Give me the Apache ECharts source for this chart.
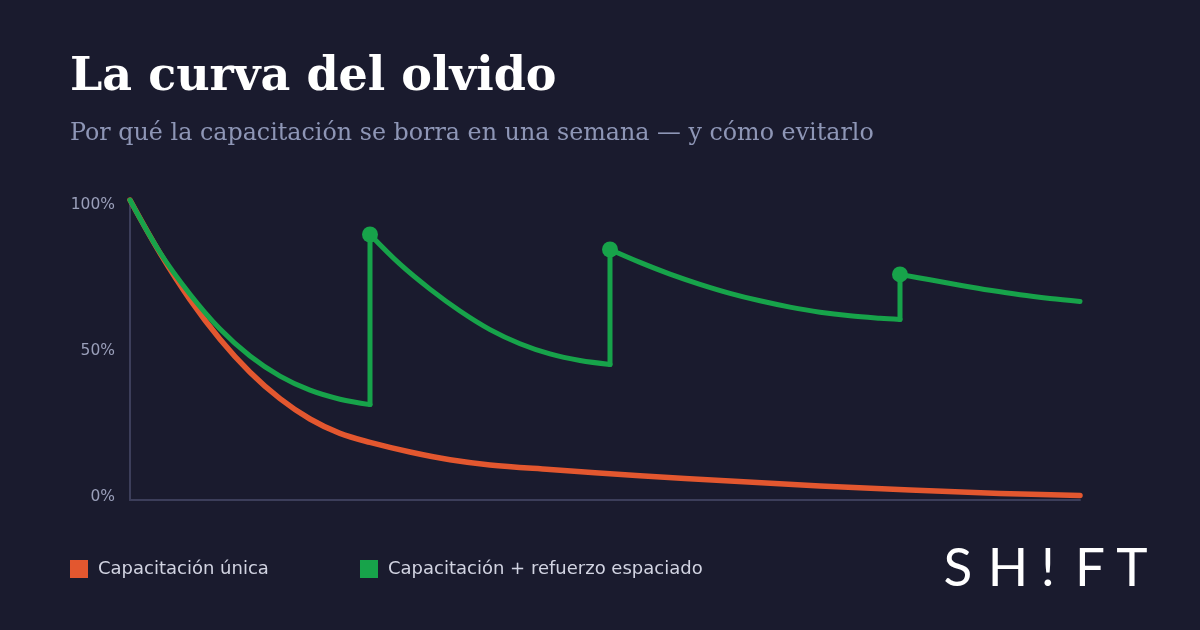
<!DOCTYPE html>
<html>
<head>
<meta charset="utf-8">
<script src="https://cdn.jsdelivr.net/npm/echarts@6/dist/echarts.min.js"></script>
<style>
  html, body { margin: 0; padding: 0; background: #1a1b2e; }
  #chart { width: 1200px; height: 630px; }
</style>
</head>
<body>
<div id="chart"></div>
<script>
// eje x: tiempo (unidades arbitrarias 0–95), eje y: retención %
const yTicks = [0, 50, 100]

const unicaName = 'Capacitación única'
const refuerzoName = 'Capacitación + refuerzo espaciado'

// curva sin refuerzo
const unica = [
  [0, 100], [3, 82.3], [6, 66.8], [9, 53.6], [12, 42.6], [15, 33.8],
  [18, 27], [21, 22.2], [24, 19.2], [28, 16], [32, 13.4], [36, 11.7],
  [42, 10.2], [51, 8.1], [60, 6.3], [69, 4.7], [78, 3.3], [87, 2.2], [95, 1.5]
]

// curva con refuerzos: un tramo por sesión
const tramo1 = [[0, 100], [3, 82.5], [6, 68.6], [9, 57], [12, 48], [15, 41.3], [18, 36.6], [21, 33.6], [24, 31.8]]
const tramo2 = [[24, 88.5], [27, 78.6], [30, 70.3], [33, 63], [36, 56.8], [39, 52.1], [42, 48.7], [45, 46.5], [48, 45.2]]
const tramo3 = [[48, 83.5], [51, 79.2], [54, 75.3], [57, 71.9], [60, 68.9], [63, 66.4], [66, 64.3], [69, 62.6], [72, 61.4], [75, 60.6], [77, 60.2]]
const tramo4 = [[77, 75.2], [80, 73.4], [83, 71.6], [86, 69.9], [89, 68.4], [92, 67.2], [95, 66.2]]

const rojo = '#e3572f'
const verde = '#17a34a'

const chart = echarts.init(document.getElementById('chart'), null, { renderer: 'canvas' })

const tramos = [tramo1, tramo2, tramo3, tramo4]

const series = [
  {
    name: unicaName,
    type: 'line',
    data: unica,
    smooth: 0.35,
    showSymbol: false,
    lineStyle: { color: rojo, width: 5.5, cap: 'round', join: 'round' },
    itemStyle: { color: rojo },
    z: 2
  }
]

tramos.forEach((t, i) => {
  series.push({
    name: refuerzoName,
    type: 'line',
    data: t,
    smooth: 0.35,
    showSymbol: false,
    lineStyle: { color: verde, width: 5, cap: 'round', join: 'round' },
    itemStyle: { color: verde },
    z: 3
  })
  // salto vertical del refuerzo + punto
  if (i > 0) {
    const prev = tramos[i - 1]
    series.push({
      name: refuerzoName,
      type: 'line',
      data: [prev[prev.length - 1], { value: t[0], symbol: 'circle', symbolSize: 16 }],
      showSymbol: true,
      symbol: 'none',
      lineStyle: { color: verde, width: 5, cap: 'round', join: 'round' },
      itemStyle: { color: verde },
      z: 3
    })
  }
})

const legendText = { color: '#d2d4e2', fontFamily: 'DejaVu Sans', fontSize: 18, padding: [0, 0, 0, 5] }

const option = {
  backgroundColor: '#1a1b2e',
  animation: false,
  grid: { left: 130, right: 120, top: 200, bottom: 130 },
  xAxis: {
    type: 'value',
    min: 0,
    max: 95,
    axisLine: { show: true, lineStyle: { color: '#3c3e5a', width: 2 } },
    axisTick: { show: false },
    axisLabel: { show: false },
    splitLine: { show: false }
  },
  yAxis: {
    type: 'value',
    min: yTicks[0],
    max: yTicks[yTicks.length - 1],
    interval: 50,
    axisLine: { show: true, lineStyle: { color: '#3c3e5a', width: 2 } },
    axisTick: { show: false },
    splitLine: { show: false },
    axisLabel: {
      margin: 15,
      color: '#9a9fba',
      fontFamily: 'DejaVu Sans',
      fontSize: 15.5,
      formatter: v => v === 100 ? '{top|100%}' : v === 0 ? '{bot|0%}' : '{mid|' + v + '%}',
      rich: {
        top: { color: '#9a9fba', fontFamily: 'DejaVu Sans', fontSize: 15.5, padding: [10, 0, 0, 0] },
        mid: { color: '#9a9fba', fontFamily: 'DejaVu Sans', fontSize: 15.5, padding: [2, 0, 0, 0] },
        bot: { color: '#9a9fba', fontFamily: 'DejaVu Sans', fontSize: 15.5, padding: [0, 0, 6, 0] }
      }
    }
  },
  legend: [
    {
      data: [unicaName],
      left: 70,
      top: 560,
      padding: 0,
      icon: 'rect',
      itemWidth: 18,
      itemHeight: 18,
      textStyle: legendText
    },
    {
      data: [refuerzoName],
      left: 360,
      top: 560,
      padding: 0,
      icon: 'rect',
      itemWidth: 18,
      itemHeight: 18,
      textStyle: legendText
    }
  ],
  graphic: [
    {
      type: 'text', left: 70, top: 55,
      style: { text: 'La curva del olvido', fill: '#ffffff', font: 'bold 46px "DejaVu Serif"' }
    },
    {
      type: 'text', left: 70, top: 122,
      style: { text: 'Por qué la capacitación se borra en una semana — y cómo evitarlo', fill: '#8e96b6', font: '23.8px "DejaVu Serif"' }
    },
    // logo
    { type: 'text', x: 958, y: 569, style: { text: 'S', fill: '#fff', font: '400 53px Lato', align: 'center', verticalAlign: 'middle' } },
    { type: 'text', x: 1008, y: 569, style: { text: 'H', fill: '#fff', font: '400 53px Lato', align: 'center', verticalAlign: 'middle' } },
    { type: 'text', x: 1048, y: 569, style: { text: '!', fill: '#fff', font: '400 53px Lato', align: 'center', verticalAlign: 'middle' } },
    { type: 'text', x: 1090, y: 569, style: { text: 'F', fill: '#fff', font: '400 53px Lato', align: 'center', verticalAlign: 'middle' } },
    { type: 'text', x: 1132, y: 569, style: { text: 'T', fill: '#fff', font: '400 53px Lato', align: 'center', verticalAlign: 'middle' } }
  ],
  series: series
}

chart.setOption(option)
</script>
</body>
</html>
